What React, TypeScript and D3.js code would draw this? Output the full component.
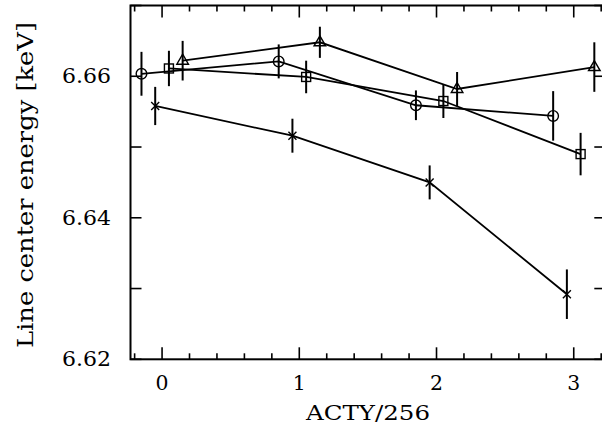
import React from "react";
import * as d3 from "d3";

const circleX = [-0.15, 0.85, 1.85, 2.85];
const circleY = [6.66035, 6.6621, 6.6559, 6.6544];
const circleErr = [0.0031, 0.0024, 0.0021, 0.0035];

const squareX = [0.05, 1.05, 2.05, 3.05];
const squareY = [6.6611, 6.6599, 6.6565, 6.6490];
const squareErr = [0.0025, 0.0023, 0.0024, 0.003];

const triangleX = [0.15, 1.15, 2.15, 3.15];
const triangleY = [6.6622, 6.6648, 6.6582, 6.6613];
const triangleErr = [0.0028, 0.0022, 0.0024, 0.0035];

const crossX = [-0.05, 0.95, 1.95, 2.95];
const crossY = [6.6558, 6.6516, 6.645, 6.6292];
const crossErr = [0.0027, 0.0024, 0.0024, 0.0035];

const xTickLabels = ["0", "1", "2", "3"];
const yTickLabels = ["6.62", "6.64", "6.66"];
const xLabel = "ACTY/256";
const yLabel = "Line center energy [keV]";

const W = 602;
const H = 430;
const L = 130.5, R = 605.3, T = 5.5, B = 359.3;
const font = "'DejaVu Serif', serif";

export default function App() {
  const x = d3.scaleLinear().domain([-0.23, 3.23]).range([L, R]);
  const y = d3.scaleLinear().domain([6.62, 6.67]).range([B, T]);
  const line = d3.line<[number, number]>().x((d) => x(d[0])).y((d) => y(d[1]));

  const series = [
    { xs: circleX, ys: circleY, es: circleErr, m: "circle" },
    { xs: squareX, ys: squareY, es: squareErr, m: "square" },
    { xs: triangleX, ys: triangleY, es: triangleErr, m: "triangle" },
    { xs: crossX, ys: crossY, es: crossErr, m: "cross" },
  ];

  const minorX = d3.range(-0.2, 3.21, 0.2).map((v) => Math.round(v * 10) / 10);
  const yTicks = d3.range(6.62, 6.6701, 0.01).map((v) => Math.round(v * 100) / 100);

  const marker = (m: string, cx: number, cy: number, k: string) => {
    const s = { fill: "none", stroke: "#000", strokeWidth: 1.4 };
    if (m === "circle") return <circle key={k} cx={cx} cy={cy} r={5.3} {...s} />;
    if (m === "square") return <rect key={k} x={cx - 4.5} y={cy - 4.5} width={9} height={9} {...s} />;
    if (m === "triangle")
      return <path key={k} d={`M${cx},${cy - 6.5}L${cx + 5.8},${cy + 3.5}L${cx - 5.8},${cy + 3.5}Z`} {...s} />;
    return (
      <path key={k} d={`M${cx - 4},${cy - 4}L${cx + 4},${cy + 4}M${cx - 4},${cy + 4}L${cx + 4},${cy - 4}`} {...s} />
    );
  };

  const textStyle = { fontFamily: font, fill: "#000" };

  return (
    <svg width={W} height={H} style={{ position: "absolute", left: 0, top: 0, background: "#fff" }}>
      <rect x={0} y={0} width={W} height={H} fill="#fff" />
      {/* frame */}
      <rect x={L} y={T} width={R - L} height={B - T} fill="none" stroke="#000" strokeWidth={2} />
      {/* x ticks */}
      {minorX.map((v, i) => {
        const major = Math.abs(v - Math.round(v)) < 1e-6;
        const len = major ? 12 : 6;
        return (
          <g key={"xt" + i} stroke="#000" strokeWidth={1.6}>
            <line x1={x(v)} x2={x(v)} y1={B} y2={B - len} />
            <line x1={x(v)} x2={x(v)} y1={T} y2={T + len} />
          </g>
        );
      })}
      {xTickLabels.map((t) => (
        <text key={"xl" + t} x={x(+t)} y={390} textAnchor="middle" fontSize={20} textLength={13}
          lengthAdjust="spacingAndGlyphs" {...textStyle}>
          {t}
        </text>
      ))}
      {/* y ticks */}
      {yTicks.map((v, i) => (
        <g key={"yt" + i} stroke="#000" strokeWidth={1.6}>
          <line x1={L} x2={L + 11} y1={y(v)} y2={y(v)} />
          <line x1={R} x2={R - 11} y1={y(v)} y2={y(v)} />
        </g>
      ))}
      {yTickLabels.map((t) => (
        <text
          key={"yl" + t}
          x={111}
          y={y(+t) + 7}
          textAnchor="end"
          fontSize={20}
          textLength={49}
          lengthAdjust="spacingAndGlyphs"
          {...textStyle}
        >
          {t}
        </text>
      ))}
      <text x={368} y={420} textAnchor="middle" fontSize={21} textLength={124} lengthAdjust="spacingAndGlyphs" {...textStyle}>
        {xLabel}
      </text>
      <text
        transform={`translate(33,185) rotate(-90)`}
        textAnchor="middle"
        fontSize={22}
        textLength={326}
        lengthAdjust="spacingAndGlyphs"
        {...textStyle}
      >
        {yLabel}
      </text>
      {/* data */}
      {series.map((s, si) => {
        const pts = s.xs.map((xv, i) => [xv, s.ys[i]] as [number, number]);
        return (
          <g key={"s" + si}>
            <path d={line(pts) || ""} fill="none" stroke="#000" strokeWidth={1.8} />
            {pts.map((p, i) => (
              <line
                key={"e" + i}
                x1={x(p[0])}
                x2={x(p[0])}
                y1={y(p[1] - s.es[i])}
                y2={y(p[1] + s.es[i])}
                stroke="#000"
                strokeWidth={2}
              />
            ))}
            {pts.map((p, i) => marker(s.m, x(p[0]), y(p[1]), "m" + i))}
          </g>
        );
      })}
    </svg>
  );
}
